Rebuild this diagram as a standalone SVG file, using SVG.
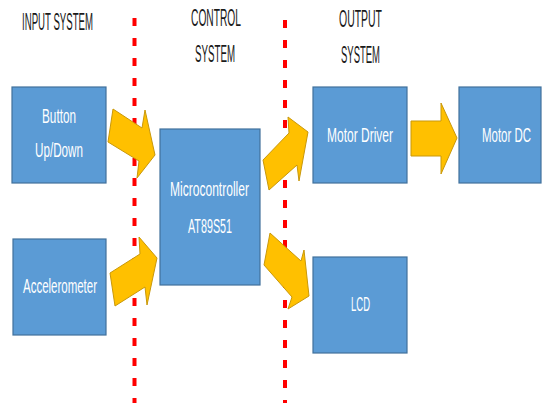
<svg xmlns="http://www.w3.org/2000/svg" width="544" height="403" viewBox="0 0 544 403">
  <style>
    .box { fill: #5B9BD5; stroke: #41719C; stroke-width: 1.2; }
    .lbl { font-family: "Liberation Sans", Arial, sans-serif; font-size: 20px; fill: #FFFFFF; }
    .hdr { font-family: "Liberation Sans", Arial, sans-serif; font-size: 23px; fill: #1A1A1A; }
    .arrow { fill: #FFC000; stroke: #C9980A; stroke-width: 1; stroke-linejoin: miter; }
    .divider { stroke: #FF0000; stroke-width: 4; stroke-dasharray: 8 12; fill: none; }
  </style>

  <rect width="544" height="403" fill="#FFFFFF"/>

  <!-- section headings -->
  <g id="headings">
    <text class="hdr" x="22" y="30" textLength="71" lengthAdjust="spacingAndGlyphs">INPUT SYSTEM</text>
    <text class="hdr" x="191" y="26" textLength="50" lengthAdjust="spacingAndGlyphs">CONTROL</text>
    <text class="hdr" x="195" y="62" textLength="40" lengthAdjust="spacingAndGlyphs">SYSTEM</text>
    <text class="hdr" x="339" y="27" textLength="43" lengthAdjust="spacingAndGlyphs">OUTPUT</text>
    <text class="hdr" x="341" y="63" textLength="39" lengthAdjust="spacingAndGlyphs">SYSTEM</text>
  </g>

  <!-- section dividers -->
  <g id="dividers">
    <line class="divider" x1="134.5" y1="18" x2="134.5" y2="403"/>
    <line class="divider" x1="285" y1="20" x2="285" y2="403"/>
  </g>

  <!-- block arrows between blocks -->
  <g id="connectors">
    <polygon class="arrow" points="113,109 142,128 145,110 155,155 137,178 139,161 108,142"/>
    <polygon class="arrow" points="110,273 140,254 139,237 157,258 147,305 145,287 115,306"/>
    <polygon class="arrow" points="263,160 289,133 288,117 308,132 299,181 297,165 269,190"/>
    <polygon class="arrow" points="270,233 301,261 304,250 309,296 288,309 292,297 264,265"/>
    <polygon class="arrow" points="411,121 441,121 441,103 457,138 441,174 441,156 411,156"/>
  </g>

  <g id="button">
    <rect class="box" x="12" y="87" width="94" height="96"/>
    <text class="lbl" x="42" y="123" textLength="34" lengthAdjust="spacingAndGlyphs">Button</text>
    <text class="lbl" x="35" y="157" textLength="48" lengthAdjust="spacingAndGlyphs">Up/Down</text>
  </g>

  <g id="accelerometer">
    <rect class="box" x="13" y="239" width="93" height="96"/>
    <text class="lbl" x="23" y="293" textLength="74" lengthAdjust="spacingAndGlyphs">Accelerometer</text>
  </g>

  <g id="microcontroller">
    <rect class="box" x="160" y="129" width="100" height="156"/>
    <text class="lbl" x="170" y="196" textLength="79" lengthAdjust="spacingAndGlyphs">Microcontroller</text>
    <text class="lbl" x="188" y="233" textLength="44" lengthAdjust="spacingAndGlyphs">AT89S51</text>
  </g>

  <g id="motor-driver">
    <rect class="box" x="313" y="87" width="94" height="96"/>
    <text class="lbl" x="327" y="142" textLength="66" lengthAdjust="spacingAndGlyphs">Motor Driver</text>
  </g>

  <g id="motor-dc">
    <rect class="box" x="459" y="87" width="82" height="96"/>
    <!-- narrowed horizontally so the label stays inside the right-hand block -->
    <text class="lbl" transform="translate(482,142) scale(0.56,1)" x="0" y="0" textLength="87.5" lengthAdjust="spacingAndGlyphs">Motor DC</text>
  </g>

  <g id="lcd">
    <rect class="box" x="313" y="257" width="94" height="96"/>
    <text class="lbl" x="351" y="311" textLength="19" lengthAdjust="spacingAndGlyphs">LCD</text>
  </g>
</svg>
